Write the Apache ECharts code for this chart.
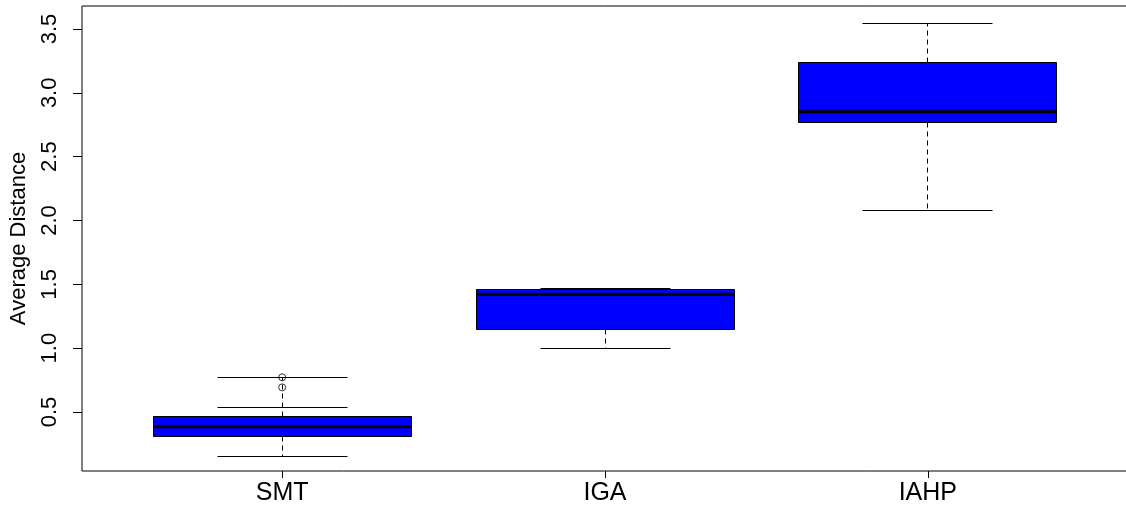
<!DOCTYPE html>
<html>
<head>
<meta charset="utf-8">
<script src="https://cdn.jsdelivr.net/npm/echarts@6/dist/echarts.min.js"></script>
<style>
  html, body { margin: 0; padding: 0; background: #fff; }
  #chart { width: 1126px; height: 513px; }
</style>
</head>
<body>
<div id="chart"></div>
<script>
// Box-and-whisker summary of average distance per method
const categories = ['SMT', 'IGA', 'IAHP'];
const whiskerLow  = [0.153, 0.999, 2.079];
const boxQ1       = [0.307, 1.150, 2.769];
const boxMedian   = [0.385, 1.422, 2.852];
const boxQ3       = [0.461, 1.461, 3.236];
const whiskerHigh = [0.772, 1.466, 3.541];
// Additional staple and outlying points: [category index, value]
const extraStaples = [[0, 0.539]];
const outliers = [[0, 0.693], [0, 0.772]];
const yTicks = [0.5, 1.0, 1.5, 2.0, 2.5, 3.0, 3.5];
const yTickLabels = ['0.5', '1.0', '1.5', '2.0', '2.5', '3.0', '3.5'];
const yTitle = 'Average Distance';

const boxRows = categories.map((c, i) => [i + 1, whiskerLow[i], boxQ1[i], boxMedian[i], boxQ3[i], whiskerHigh[i]]);
const stapleRows = extraStaples.map(s => [s[0] + 1, s[1]]);
const outlierRows = outliers.map(o => [o[0] + 1, o[1]]);

const FONT = 'Liberation Sans, Arial, Helvetica, sans-serif';
const BOX_HALF = 0.4, CAP_HALF = 0.2;

// snap a coordinate to the pixel centre so 1px strokes stay sharp
const crisp = v => Math.round(v - 0.5) + 0.5;

function renderBox(params, api) {
  const x = api.value(0);
  const cx = crisp(api.coord([x, 0])[0]);
  const yOf = v => crisp(api.coord([x, v])[1]);
  const hb = Math.round(api.size([BOX_HALF, 0])[0]);
  const hc = Math.round(api.size([CAP_HALF, 0])[0]);
  const yLow = yOf(api.value(1)), yQ1 = yOf(api.value(2));
  const yMed = api.coord([x, api.value(3)])[1];
  const yQ3 = yOf(api.value(4)), yHigh = yOf(api.value(5));
  const thin = { stroke: '#000', lineWidth: 1 };
  const dashed = { stroke: '#000', lineWidth: 1, lineDash: [5, 4] };
  return {
    type: 'group',
    children: [
      { type: 'line', shape: { x1: cx, y1: yQ3, x2: cx, y2: yHigh }, style: dashed },
      { type: 'line', shape: { x1: cx, y1: yQ1, x2: cx, y2: yLow }, style: dashed },
      { type: 'line', shape: { x1: cx - hc, y1: yHigh, x2: cx + hc, y2: yHigh }, style: thin },
      { type: 'line', shape: { x1: cx - hc, y1: yLow, x2: cx + hc, y2: yLow }, style: thin },
      { type: 'rect', shape: { x: cx - hb, y: yQ3, width: 2 * hb, height: yQ1 - yQ3 },
        style: { fill: '#0000FF', stroke: '#000', lineWidth: 1 } },
      { type: 'line', shape: { x1: cx - hb, y1: yMed, x2: cx + hb, y2: yMed },
        style: { stroke: '#000', lineWidth: 3 } }
    ]
  };
}

function renderStaple(params, api) {
  const x = api.value(0);
  const p = api.coord([x, api.value(1)]);
  const cx = crisp(p[0]), cy = crisp(p[1]);
  const hc = Math.round(api.size([CAP_HALF, 0])[0]);
  return { type: 'line', shape: { x1: cx - hc, y1: cy, x2: cx + hc, y2: cy },
           style: { stroke: '#000', lineWidth: 1 } };
}

const chart = echarts.init(document.getElementById('chart'), null, { renderer: 'canvas' });
chart.setOption({
  backgroundColor: '#fff',
  animation: false,
  grid: { left: 82, top: 6, width: 1046, height: 465, show: true,
          outerBoundsMode: 'none', containLabel: false,
          borderColor: '#000', borderWidth: 1, backgroundColor: 'transparent' },
  xAxis: {
    type: 'value', min: 0.38, max: 3.62,
    axisLine: { show: false },
    splitLine: { show: false },
    axisTick: { show: true, customValues: [1, 2, 3], length: 7, lineStyle: { color: '#000', width: 1 } },
    axisLabel: { show: true, customValues: [1, 2, 3], formatter: v => categories[Math.round(v) - 1],
                 fontFamily: FONT, fontSize: 25, color: '#000', margin: 10 }
  },
  yAxis: {
    type: 'value', min: 0.038, max: 3.68,
    name: yTitle, nameLocation: 'middle', nameGap: 52, nameRotate: 90,
    nameTextStyle: { fontFamily: FONT, fontSize: 22, color: '#000' },
    axisLine: { show: false },
    splitLine: { show: false },
    axisTick: { show: true, customValues: yTicks, length: 9, lineStyle: { color: '#000', width: 1 } },
    axisLabel: { show: true, customValues: yTicks, rotate: 90,
                 formatter: v => yTickLabels[yTicks.findIndex(t => Math.abs(t - v) < 1e-6)],
                 fontFamily: FONT, fontSize: 22, color: '#000', margin: 21 }
  },
  series: [
    { type: 'custom', renderItem: renderBox, data: boxRows, silent: true,
      encode: { x: 0, y: [1, 2, 3, 4, 5] } },
    { type: 'custom', renderItem: renderStaple, data: stapleRows, silent: true,
      encode: { x: 0, y: 1 } },
    { type: 'scatter', data: outlierRows, symbol: 'circle', symbolSize: 7, silent: true,
      itemStyle: { color: 'transparent', borderColor: '#000', borderWidth: 1 } }
  ]
});
</script>
</body>
</html>
